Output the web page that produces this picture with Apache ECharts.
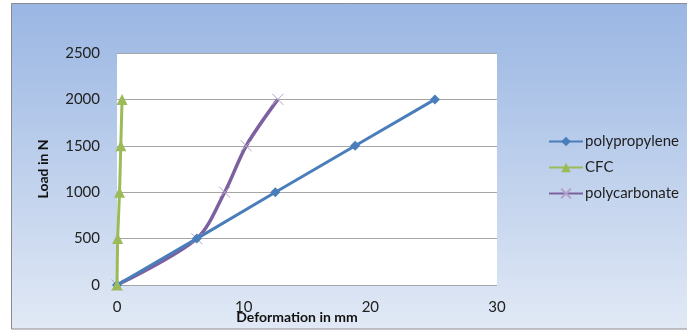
<!DOCTYPE html>
<html><head><meta charset="utf-8">
<script src="https://cdn.jsdelivr.net/npm/echarts@6/dist/echarts.min.js"></script>
<style>html,body{margin:0;padding:0;background:#fff}#c{width:687px;height:331px}</style>
</head><body><div id="c"></div>
<script>
const seriesNames = ['polypropylene', 'CFC', 'polycarbonate'];
const ppX = [0, 6.3, 12.5, 18.8, 25.1];
const ppY = [0, 500, 1000, 1500, 2000];
const cfcX = [0, 0.05, 0.2, 0.3, 0.4];
const cfcY = [0, 500, 1000, 1500, 2000];
const pcX = [0, 6.3, 8.5, 10.2, 12.7];
const pcY = [0, 500, 1000, 1500, 2000];
const xTicks = [0, 10, 20, 30];
const yTicks = [0, 500, 1000, 1500, 2000, 2500];

const zip = (xs, ys) => xs.map((x, i) => [x, ys[i]]);
const chart = echarts.init(document.getElementById('c'));
const font = 'Lato, "Open Sans", sans-serif';
chart.setOption({
  animation: false,
  textStyle: { fontFamily: font },
  graphic: [{
    type: 'rect', z: -10, silent: true,
    shape: { x: 11.5, y: 3.5, width: 690, height: 325.5 },
    style: {
      fill: new echarts.graphic.LinearGradient(0, 0, 0, 1, [
        { offset: 0, color: '#9ab6e3' },
        { offset: 1, color: '#e1e9f5' }
      ]),
      stroke: '#8c8c8c', lineWidth: 1
    }
  }],
  grid: { left: 117, top: 53, right: 190, bottom: 46, show: true, backgroundColor: '#ffffff', borderWidth: 0,
          containLabel: false, outerBoundsMode: 'none' },
  legend: {
    orient: 'vertical', left: 543, top: 129, itemGap: 11, itemWidth: 34, itemHeight: 12,
    data: seriesNames,
    textStyle: { fontSize: 15, color: '#1e1e1e', fontFamily: font, padding: [0, 0, 0, -3] }
  },
  xAxis: {
    type: 'value', min: xTicks[0], max: xTicks[xTicks.length - 1], interval: 10,
    name: 'Deformation in mm', nameLocation: 'middle', nameGap: 25, nameMoveOverlap: false,
    nameTextStyle: { fontSize: 14, fontWeight: 'bold', color: '#111', padding: [0, 20, 0, 0] },
    axisLine: { show: false }, axisTick: { show: false }, splitLine: { show: false },
    axisLabel: { fontSize: 15, color: '#222', margin: 15 }
  },
  yAxis: {
    type: 'value', min: yTicks[0], max: yTicks[yTicks.length - 1], interval: 500,
    name: 'Load in N', nameLocation: 'middle', nameGap: 67, nameMoveOverlap: false,
    nameTextStyle: { fontSize: 14, fontWeight: 'bold', color: '#111' },
    axisLine: { show: false }, axisTick: { show: false },
    splitLine: { show: true, lineStyle: { color: '#a6a6a6', width: 1 } },
    axisLabel: { fontSize: 15, color: '#222', margin: 17, formatter: v => String(v) }
  },
  series: [
    {
      name: seriesNames[0], type: 'line', data: zip(ppX, ppY), z: 3,
      symbol: 'diamond', symbolSize: 10,
      lineStyle: { color: '#4a7ebb', width: 3 },
      itemStyle: { color: '#4a7ebb' }
    },
    {
      name: seriesNames[1], type: 'line', data: zip(cfcX, cfcY), z: 4,
      symbol: 'triangle', symbolSize: 11,
      lineStyle: { color: '#9bbb59', width: 3 },
      itemStyle: { color: '#9bbb59' }
    },
    {
      name: seriesNames[2], type: 'line', data: zip(pcX, pcY), z: 2, smooth: 0.3,
      symbol: 'path://M0,0L10,10M10,0L0,10', symbolSize: 11,
      lineStyle: { color: '#7d60a0', width: 3.5 },
      itemStyle: { color: 'none', borderColor: '#b3a2c7', borderWidth: 1 }
    }
  ]
});
</script></body></html>
